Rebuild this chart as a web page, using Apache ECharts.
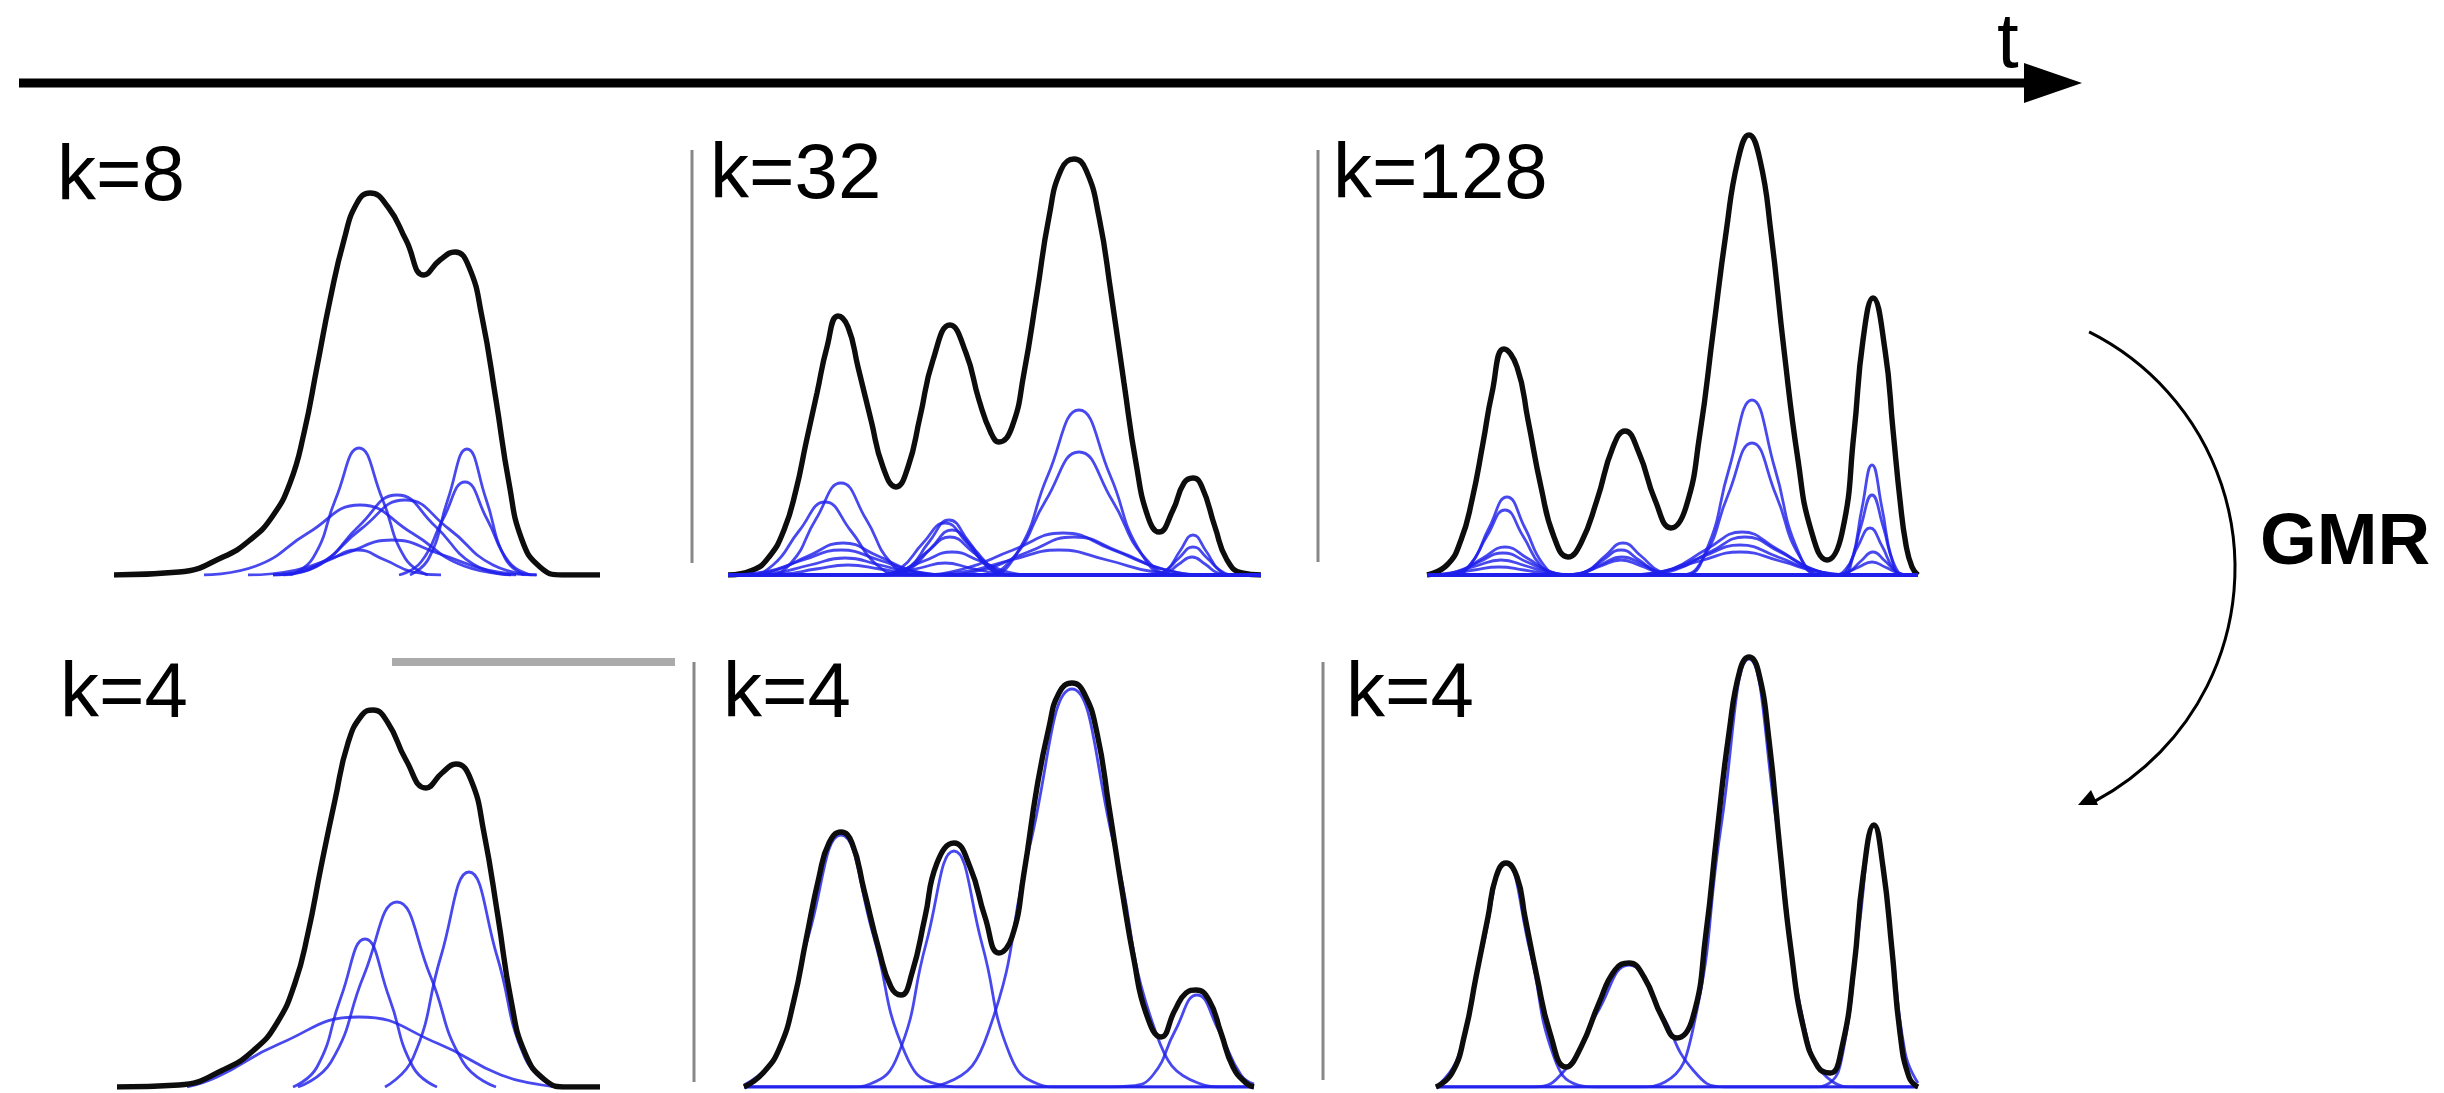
<!DOCTYPE html>
<html>
<head>
<meta charset="utf-8">
<title>Mixture reduction over time (GMR)</title>
<script src="https://cdn.jsdelivr.net/npm/echarts@6.0.0/dist/echarts.min.js"></script>
<style>
  html, body { margin: 0; padding: 0; background: #fff; }
  #chart { width: 2444px; height: 1093px; }
</style>
</head>
<body>
<div id="chart"></div>
<script>
// values: x = position along t, y = density
const panelLabels = ['k=8', 'k=32', 'k=128', 'k=4', 'k=4', 'k=4']

// ---- top row: full mixtures ----
const k8Mixture = [[0, 0], [6.5, 0.03], [10.9, 0.18], [13.6, 0.35], [15.8, 0.58], [17.6, 0.92], [19.0, 1.42], [20.3, 2.08],
  [21.6, 2.75], [23.0, 3.35], [24.3, 3.72], [25.6, 3.82], [27.4, 3.68], [29.2, 3.35], [31.0, 3.0], [32.6, 3.15], [34.1, 3.23],
  [35.5, 3.08], [36.8, 2.58], [38.2, 1.75], [39.5, 0.92], [40.8, 0.35], [42.6, 0.08], [44.8, 0], [48.6, 0]]
const k8Components = [
  [[17.6, 0], [19.9, 0.17], [22.2, 0.77], [24.5, 1.27], [26.8, 0.77], [29.1, 0.17], [31.4, 0]],
  [[29.6, 0], [31.5, 0.17], [33.4, 0.76], [35.3, 1.26], [37.2, 0.76], [39.1, 0.17], [41.0, 0]],
  [[28.5, 0], [30.7, 0.13], [32.9, 0.56], [35.1, 0.93], [37.3, 0.56], [39.5, 0.13], [41.7, 0]],
  [[9.0, 0], [14.2, 0.09], [19.4, 0.42], [24.6, 0.70], [29.8, 0.42], [35.0, 0.09], [40.2, 0]],
  [[16.9, 0], [20.7, 0.11], [24.5, 0.49], [28.3, 0.80], [32.1, 0.49], [35.9, 0.11], [39.7, 0]],
  [[15.9, 0], [20.3, 0.10], [24.7, 0.46], [29.1, 0.75], [33.5, 0.46], [37.9, 0.10], [42.3, 0]],
  [[13.4, 0], [18.2, 0.05], [23.0, 0.21], [27.8, 0.35], [32.6, 0.21], [37.4, 0.05], [42.2, 0]],
  [[15.9, 0], [18.7, 0.03], [21.5, 0.15], [24.3, 0.25], [27.1, 0.15], [29.9, 0.03], [32.7, 0]]
]

const k32Mixture = [[0, 0], [2.5, 0.05], [4.1, 0.18], [5.6, 0.45], [6.8, 0.85], [7.8, 1.32], [8.9, 1.82], [9.9, 2.28],
  [11.0, 2.59], [12.0, 2.48], [13.0, 2.08], [14.3, 1.55], [15.5, 1.08], [16.8, 0.88], [18.0, 1.08], [19.2, 1.58], [20.5, 2.15],
  [22.2, 2.50], [23.8, 2.22], [25.1, 1.75], [26.3, 1.42], [27.1, 1.33], [28.4, 1.48], [29.6, 2.02], [30.9, 2.82], [32.1, 3.58],
  [33.3, 4.05], [34.6, 4.16], [35.8, 4.05], [37.1, 3.58], [38.3, 2.82], [39.6, 1.92], [40.8, 1.12], [42.0, 0.58], [43.1, 0.43],
  [44.5, 0.65], [45.6, 0.92], [46.5, 0.97], [47.4, 0.88], [48.7, 0.48], [49.9, 0.15], [51.4, 0.02], [53.3, 0]]
const k32Components = [
  [[0, 0], [3.8, 0], [6.3, 0.12], [8.8, 0.56], [11.3, 0.92], [13.8, 0.56], [16.3, 0.12], [18.8, 0], [53.3, 0]],
  [[0, 0], [1.9, 0], [4.5, 0.10], [7.1, 0.44], [9.7, 0.73], [12.3, 0.44], [14.9, 0.10], [17.5, 0], [53.3, 0]],
  [[0, 0], [1.0, 0], [4.5, 0.04], [8.0, 0.19], [11.5, 0.32], [15.0, 0.19], [18.5, 0.04], [22.0, 0], [53.3, 0]],
  [[0, 0], [3.7, 0.03], [7.5, 0.15], [11.3, 0.25], [15.1, 0.15], [18.9, 0.03], [22.7, 0], [53.3, 0]],
  [[0, 0], [1.2, 0], [4.7, 0.02], [8.2, 0.10], [11.7, 0.17], [15.2, 0.10], [18.7, 0.02], [22.2, 0], [53.3, 0]],
  [[0, 0], [2.4, 0], [5.6, 0.01], [8.8, 0.06], [12.0, 0.10], [15.2, 0.06], [18.4, 0.01], [21.6, 0], [53.3, 0]],
  [[0, 0], [16.1, 0], [18.1, 0.07], [20.1, 0.33], [22.1, 0.55], [24.1, 0.33], [26.1, 0.07], [28.1, 0], [53.3, 0]],
  [[0, 0], [15.1, 0], [17.3, 0.07], [19.5, 0.32], [21.7, 0.52], [23.9, 0.32], [26.1, 0.07], [28.3, 0], [53.3, 0]],
  [[0, 0], [16.1, 0], [18.2, 0.06], [20.3, 0.27], [22.4, 0.45], [24.5, 0.27], [26.6, 0.06], [28.7, 0], [53.3, 0]],
  [[0, 0], [15.3, 0], [17.6, 0.05], [19.9, 0.23], [22.2, 0.38], [24.5, 0.23], [26.8, 0.05], [29.1, 0], [53.3, 0]],
  [[0, 0], [14.0, 0], [16.8, 0.03], [19.6, 0.14], [22.4, 0.23], [25.2, 0.14], [28.0, 0.03], [30.8, 0], [53.3, 0]],
  [[0, 0], [14.2, 0], [16.7, 0.02], [19.2, 0.07], [21.7, 0.12], [24.2, 0.07], [26.7, 0.02], [29.2, 0], [53.3, 0]],
  [[0, 0], [25.8, 0], [28.9, 0.22], [32.0, 1.00], [35.1, 1.65], [38.2, 1.00], [41.3, 0.22], [44.4, 0], [53.3, 0]],
  [[0, 0], [25.2, 0], [28.5, 0.17], [31.8, 0.75], [35.1, 1.23], [38.4, 0.75], [41.7, 0.17], [45.0, 0], [53.3, 0]],
  [[0, 0], [18.5, 0], [23.5, 0.06], [28.5, 0.25], [33.5, 0.42], [38.5, 0.25], [43.5, 0.06], [48.5, 0], [53.3, 0]],
  [[0, 0], [20.8, 0], [25.4, 0.05], [30.0, 0.23], [34.6, 0.38], [39.2, 0.23], [43.8, 0.05], [48.4, 0], [53.3, 0]],
  [[0, 0], [18.7, 0], [23.5, 0.03], [28.3, 0.15], [33.1, 0.25], [37.9, 0.15], [42.7, 0.03], [47.5, 0], [53.3, 0]],
  [[0, 0], [42.6, 0], [43.9, 0.05], [45.2, 0.24], [46.5, 0.40], [47.8, 0.24], [49.1, 0.05], [50.4, 0], [53.3, 0]],
  [[0, 0], [42.3, 0], [43.7, 0.04], [45.1, 0.17], [46.5, 0.28], [47.9, 0.17], [49.3, 0.04], [50.7, 0], [53.3, 0]],
  [[0, 0], [42.5, 0], [43.8, 0.02], [45.1, 0.11], [46.4, 0.18], [47.7, 0.11], [49.0, 0.02], [50.3, 0], [53.3, 0]]
]

const k128Mixture = [[0, 0], [2.0, 0.10], [3.4, 0.35], [4.5, 0.75], [5.6, 1.32], [6.5, 1.82], [7.7, 2.26], [9.0, 2.08],
  [10.1, 1.55], [11.4, 0.88], [12.7, 0.38], [14.1, 0.18], [15.4, 0.32], [17.0, 0.75], [18.6, 1.28], [19.8, 1.44], [21.2, 1.22],
  [22.8, 0.75], [24.4, 0.47], [25.9, 0.68], [27.3, 1.42], [28.6, 2.42], [29.9, 3.42], [31.1, 4.15], [32.2, 4.40], [33.3, 4.15],
  [34.4, 3.42], [35.7, 2.25], [37.1, 1.15], [38.4, 0.45], [40.0, 0.15], [41.5, 0.42], [42.7, 1.42], [43.6, 2.35], [44.6, 2.77],
  [45.8, 2.25], [46.6, 1.45], [47.3, 0.75], [47.9, 0.30], [48.5, 0.08], [49.1, 0]]
const k128Components = [
  [[0, 0], [2.6, 0], [4.4, 0.11], [6.2, 0.47], [8.0, 0.78], [9.8, 0.47], [11.6, 0.11], [13.4, 0], [49.1, 0]],
  [[0, 0], [2.4, 0], [4.2, 0.09], [6.0, 0.39], [7.8, 0.65], [9.6, 0.39], [11.4, 0.09], [13.2, 0], [49.1, 0]],
  [[0, 0], [1.2, 0], [3.4, 0.04], [5.6, 0.17], [7.8, 0.28], [10.0, 0.17], [12.2, 0.04], [14.4, 0], [49.1, 0]],
  [[0, 0], [0.4, 0], [2.8, 0.03], [5.2, 0.13], [7.6, 0.22], [10.0, 0.13], [12.4, 0.03], [14.8, 0], [49.1, 0]],
  [[0, 0], [2.4, 0.02], [4.9, 0.09], [7.4, 0.15], [9.9, 0.09], [12.4, 0.02], [14.9, 0], [49.1, 0]],
  [[0, 0], [2.2, 0.01], [4.7, 0.05], [7.2, 0.08], [9.7, 0.05], [12.2, 0.01], [14.7, 0], [49.1, 0]],
  [[0, 0], [14.2, 0], [16.0, 0.04], [17.8, 0.19], [19.6, 0.32], [21.4, 0.19], [23.2, 0.04], [25.0, 0], [49.1, 0]],
  [[0, 0], [14.0, 0], [15.8, 0.03], [17.6, 0.15], [19.4, 0.25], [21.2, 0.15], [23.0, 0.03], [24.8, 0], [49.1, 0]],
  [[0, 0], [13.5, 0], [15.5, 0.02], [17.5, 0.11], [19.5, 0.18], [21.5, 0.11], [23.5, 0.02], [25.5, 0], [49.1, 0]],
  [[0, 0], [13.4, 0], [15.4, 0.02], [17.4, 0.09], [19.4, 0.15], [21.4, 0.09], [23.4, 0.02], [25.4, 0], [49.1, 0]],
  [[0, 0], [25.6, 0], [27.9, 0.24], [30.2, 1.06], [32.5, 1.75], [34.8, 1.06], [37.1, 0.24], [39.4, 0], [49.1, 0]],
  [[0, 0], [25.3, 0], [27.7, 0.18], [30.1, 0.80], [32.5, 1.32], [34.9, 0.80], [37.3, 0.18], [39.7, 0], [49.1, 0]],
  [[0, 0], [21.0, 0], [24.5, 0.06], [28.0, 0.26], [31.5, 0.43], [35.0, 0.26], [38.5, 0.06], [42.0, 0], [49.1, 0]],
  [[0, 0], [21.3, 0], [24.8, 0.05], [28.3, 0.23], [31.8, 0.38], [35.3, 0.23], [38.8, 0.05], [42.3, 0], [49.1, 0]],
  [[0, 0], [19.9, 0], [23.7, 0.04], [27.5, 0.18], [31.3, 0.30], [35.1, 0.18], [38.9, 0.04], [42.7, 0], [49.1, 0]],
  [[0, 0], [19.3, 0], [23.3, 0.03], [27.3, 0.14], [31.3, 0.23], [35.3, 0.14], [39.3, 0.03], [43.3, 0], [49.1, 0]],
  [[0, 0], [41.5, 0], [42.5, 0.15], [43.5, 0.67], [44.5, 1.10], [45.5, 0.67], [46.5, 0.15], [47.5, 0], [49.1, 0]],
  [[0, 0], [41.2, 0], [42.3, 0.11], [43.4, 0.49], [44.5, 0.80], [45.6, 0.49], [46.7, 0.11], [47.8, 0], [49.1, 0]],
  [[0, 0], [40.7, 0], [41.9, 0.06], [43.1, 0.29], [44.3, 0.47], [45.5, 0.29], [46.7, 0.06], [47.9, 0], [49.1, 0]],
  [[0, 0], [41.0, 0], [42.2, 0.03], [43.4, 0.14], [44.6, 0.23], [45.8, 0.14], [47.0, 0.03], [48.2, 0], [49.1, 0]],
  [[0, 0], [40.6, 0], [41.8, 0.02], [43.2, 0.08], [44.5, 0.13], [45.8, 0.08], [47.1, 0.02], [48.4, 0], [49.1, 0]]
]

// ---- bottom row: reduced to k=4 ----
const k4aMixture = [[0, 0], [6.2, 0.02], [10.6, 0.17], [13.7, 0.37], [16.0, 0.64], [17.8, 1.04], [19.1, 1.54], [20.4, 2.20],
  [21.8, 2.87], [23.1, 3.44], [24.5, 3.72], [25.6, 3.77], [27.1, 3.64], [28.9, 3.27], [30.9, 2.99], [32.5, 3.14], [33.9, 3.23],
  [35.4, 3.07], [36.7, 2.54], [38.1, 1.70], [39.4, 0.87], [40.8, 0.34], [42.8, 0.07], [45.0, 0], [48.3, 0]]
const k4aComponents = [
  [[7.0, 0], [10.0, 0.10], [16.2, 0.43], [24.2, 0.70], [32.2, 0.43], [38.4, 0.12], [42.5, 0.02], [44.5, 0]],
  [[17.6, 0], [20.0, 0.20], [22.4, 0.90], [24.8, 1.48], [27.2, 0.90], [29.6, 0.20], [32.0, 0]],
  [[18.1, 0], [21.4, 0.25], [24.7, 1.12], [28.0, 1.85], [31.3, 1.12], [34.6, 0.25], [37.9, 0]],
  [[26.8, 0], [29.6, 0.29], [32.4, 1.31], [35.2, 2.15], [38.0, 1.31], [40.8, 0.29], [43.6, 0]]
]

const k4bMixture = [[0, 0], [1.9, 0.14], [3.6, 0.40], [5.0, 0.87], [6.2, 1.47], [7.5, 2.10], [8.5, 2.44], [9.7, 2.55],
  [10.8, 2.44], [12.0, 1.97], [13.5, 1.37], [14.7, 1.00], [15.7, 0.92], [16.8, 1.14], [18.1, 1.70], [19.3, 2.24], [21.0, 2.44],
  [22.6, 2.20], [24.1, 1.70], [25.5, 1.34], [26.8, 1.50], [28.0, 2.14], [29.3, 3.00], [30.5, 3.60], [31.5, 3.94], [32.8, 4.04],
  [34.0, 3.94], [35.3, 3.54], [36.5, 2.80], [37.8, 1.97], [39.0, 1.27], [40.2, 0.74], [41.7, 0.50], [43.1, 0.77], [44.2, 0.94],
  [45.2, 0.97], [46.5, 0.87], [47.7, 0.54], [48.9, 0.20], [50.2, 0.04], [51.0, 0]]
const k4bComponents = [
  [[0, 0.02], [3.3, 0.34], [6.5, 1.53], [9.7, 2.52], [12.9, 1.53], [16.1, 0.34], [19.3, 0.03], [22.5, 0], [51.0, 0]],
  [[0, 0], [10.6, 0], [12.6, 0.03], [15.4, 0.32], [18.2, 1.43], [21.0, 2.36], [23.8, 1.43], [26.6, 0.32], [29.4, 0.03], [31.4, 0], [51.0, 0]],
  [[0, 0], [17.4, 0], [20.2, 0.04], [24.4, 0.54], [28.6, 2.42], [32.8, 3.98], [37.0, 2.42], [41.2, 0.54], [45.4, 0.04], [48.2, 0], [51.0, 0]],
  [[0, 0], [36.5, 0], [38.7, 0.01], [40.9, 0.12], [43.1, 0.56], [45.3, 0.92], [47.5, 0.56], [49.7, 0.12], [51.0, 0.03]]
]

const k4cMixture = [[0, 0], [1.6, 0.14], [2.9, 0.54], [4.0, 1.10], [5.2, 1.70], [6.0, 2.10], [7.0, 2.24], [8.1, 2.10],
  [8.9, 1.70], [10.1, 1.10], [11.4, 0.54], [13.0, 0.20], [14.5, 0.40], [16.3, 0.84], [17.9, 1.17], [19.3, 1.24], [20.8, 1.10],
  [22.6, 0.70], [24.1, 0.49], [25.7, 0.70], [27.0, 1.54], [28.1, 2.54], [29.3, 3.54], [30.4, 4.17], [31.3, 4.30], [32.2, 4.17],
  [33.3, 3.47], [34.4, 2.37], [35.5, 1.37], [36.8, 0.57], [38.2, 0.20], [39.4, 0.14], [40.6, 0.40], [41.8, 1.20], [42.7, 2.10],
  [43.8, 2.62], [44.7, 2.20], [45.6, 1.37], [46.4, 0.54], [47.3, 0.10], [48.2, 0]]
const k4cComponents = [
  [[0, 0], [2.2, 0.30], [4.6, 1.36], [7.0, 2.24], [9.4, 1.36], [11.8, 0.30], [14.2, 0.02], [16.0, 0], [48.2, 0]],
  [[0, 0], [9.7, 0], [12.9, 0.17], [16.1, 0.74], [19.3, 1.22], [22.5, 0.74], [25.7, 0.17], [28.9, 0], [48.2, 0]],
  [[0, 0], [20.1, 0], [22.9, 0.05], [25.7, 0.58], [28.5, 2.60], [31.3, 4.28], [34.1, 2.60], [36.9, 0.58], [39.7, 0.05], [42.0, 0], [48.2, 0]],
  [[0, 0], [37.6, 0], [39.2, 0.03], [40.7, 0.35], [42.3, 1.59], [43.8, 2.62], [45.4, 1.59], [46.9, 0.35], [48.2, 0.04]]
]

// ---- layout of the six panels (pixels) ----
// mixtureOnTop: in the reduced row the black mixture is drawn over its components
const panels = [
  { mixture: k8Mixture, parts: k8Components, left: 114, top: 100, width: 486, height: 475, xMax: 48.6, yMax: 4.75, labelAt: [57, 178], mixtureOnTop: false },
  { mixture: k32Mixture, parts: k32Components, left: 728, top: 100, width: 533, height: 475, xMax: 53.3, yMax: 4.75, labelAt: [710, 176], mixtureOnTop: false },
  { mixture: k128Mixture, parts: k128Components, left: 1427, top: 100, width: 491, height: 475, xMax: 49.1, yMax: 4.75, labelAt: [1333, 176], mixtureOnTop: false },
  { mixture: k4aMixture, parts: k4aComponents, left: 117, top: 620, width: 483, height: 467, xMax: 48.3, yMax: 4.67, labelAt: [60, 695], mixtureOnTop: true },
  { mixture: k4bMixture, parts: k4bComponents, left: 744, top: 620, width: 510, height: 467, xMax: 51.0, yMax: 4.67, labelAt: [723, 695], mixtureOnTop: true },
  { mixture: k4cMixture, parts: k4cComponents, left: 1436, top: 620, width: 482, height: 467, xMax: 48.2, yMax: 4.67, labelAt: [1346, 695], mixtureOnTop: true }
]

const BLUE = 'rgba(32, 32, 235, 0.82)'
const FONT = '"Liberation Sans", Arial, Helvetica, sans-serif'

const series = []
panels.forEach((p, i) => {
  series.push({
    type: 'line', xAxisIndex: i, yAxisIndex: i, data: p.mixture,
    smooth: true, symbol: 'none', silent: true,
    lineStyle: { color: '#0d0d0d', width: 5.4 }, z: p.mixtureOnTop ? 4 : 2
  })
  p.parts.forEach((part) => {
    series.push({
      type: 'line', xAxisIndex: i, yAxisIndex: i, data: part,
      smooth: true, symbol: 'none', silent: true,
      lineStyle: { color: BLUE, width: 2.8 }, z: 3
    })
  })
})

const label = (text, x, y) => ({
  type: 'text', x, y,
  style: { text, fontSize: 78, fontFamily: FONT, fill: '#000', align: 'left', verticalAlign: 'middle' }
})
const rule = (x1, y1, x2, y2, color, w) => ({
  type: 'line', shape: { x1, y1, x2, y2 }, style: { stroke: color, lineWidth: w }
})

const graphic = [
  // time arrow
  rule(19, 83, 2030, 83, '#000', 9),
  { type: 'polygon', shape: { points: [[2024, 63], [2082, 83], [2024, 103]] }, style: { fill: '#000' } },
  label('t', 1997, 45),
  // panel separators
  rule(692, 150, 692, 563, '#888', 3),
  rule(1318, 150, 1318, 562, '#888', 3),
  rule(694, 662, 694, 1082, '#888', 3),
  rule(1323, 662, 1323, 1080, '#888', 3),
  rule(392, 662, 675, 662, '#aaa', 8),
  // GMR arrow
  { type: 'arc', shape: { cx: 1971, cy: 568, r: 264, startAngle: -1.107, endAngle: 1.08, clockwise: true },
    style: { stroke: '#000', lineWidth: 3, fill: 'none' } },
  { type: 'polygon', shape: { points: [[2078, 805], [2098, 805], [2091, 790]] }, style: { fill: '#000' } },
  { type: 'text', x: 2260, y: 544,
    style: { text: 'GMR', fontSize: 73, fontWeight: 'bold', fontFamily: FONT, fill: '#000', align: 'left', verticalAlign: 'middle' } }
]
panels.forEach((p, i) => graphic.push(label(panelLabels[i], p.labelAt[0], p.labelAt[1])))

const chart = echarts.init(document.getElementById('chart'))
chart.setOption({
  animation: false,
  backgroundColor: '#fff',
  grid: panels.map((p) => ({ left: p.left, top: p.top, width: p.width, height: p.height, show: false })),
  xAxis: panels.map((p, i) => ({ type: 'value', gridIndex: i, min: 0, max: p.xMax, show: false })),
  yAxis: panels.map((p, i) => ({ type: 'value', gridIndex: i, min: 0, max: p.yMax, show: false })),
  series,
  graphic
})
window.addEventListener('resize', () => chart.resize())
</script>
</body>
</html>
